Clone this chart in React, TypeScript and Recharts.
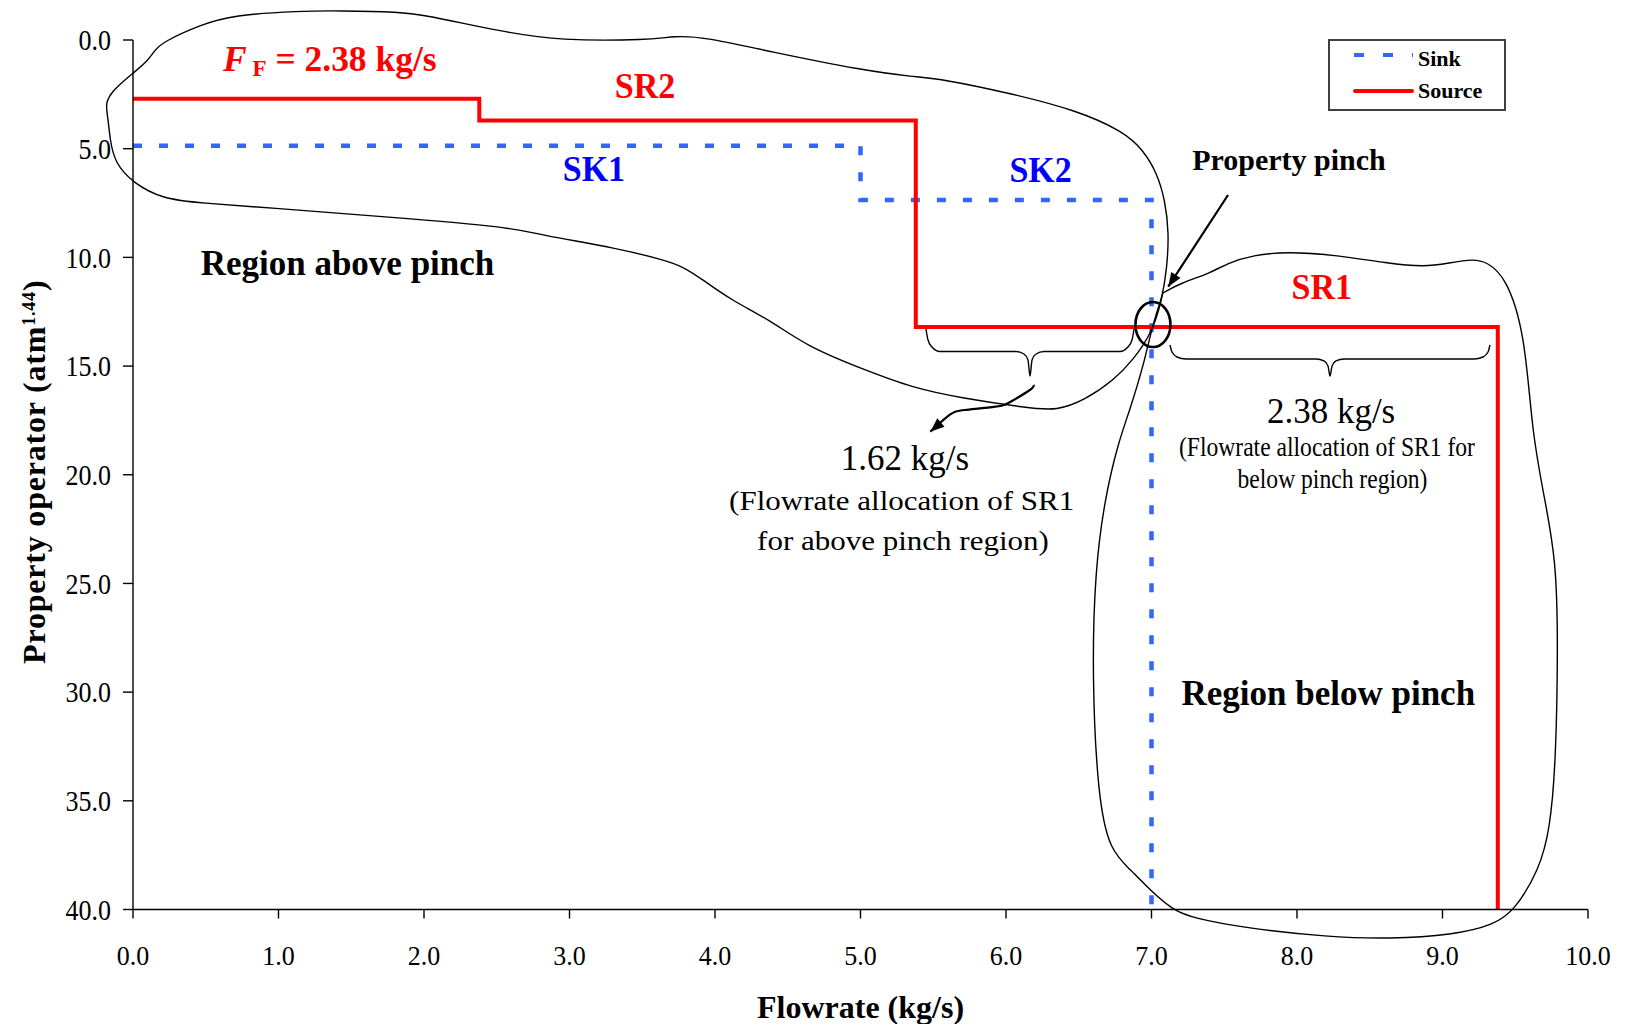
import React from 'react';
import { ComposedChart, Line, XAxis, YAxis, Legend, ReferenceDot } from 'recharts';

const FONT = '"Liberation Serif", "Times New Roman", Times, serif';

// ---------- axis ticks ----------
const flowTicks = [0, 1, 2, 3, 4, 5, 6, 7, 8, 9, 10];
const propertyTicks = [0, 5, 10, 15, 20, 25, 30, 35, 40];

// ---------- composite curves (flowrate kg/s, property operator) ----------
const sourceFlow = [0, 2.38, 2.38, 5.38, 5.38, 9.38, 9.38];
const sourceProperty = [2.7, 2.7, 3.7, 3.7, 13.2, 13.2, 40];

const sinkFlow = [0, 5.0, 5.0, 7.0, 7.0];
const sinkProperty = [4.87, 4.87, 7.36, 7.36, 40];

const seriesNames = ['Sink', 'Source'];

// ---------- hand-drawn annotations (flowrate, property) ----------
const regionAboveOutline: [number, number][] = [
  [0.206, 0.092], [0.46, -0.69], [0.687, -1.15], [1.148, -1.334], [1.416, -1.348], [1.835, -1.288],
  [2.007, -1.15], [2.536, -0.382], [2.928, 0.032], [3.553, 0.0], [3.718, -0.184], [3.918, -0.152],
  [4.378, 0.538], [5.031, 1.412], [5.361, 1.688], [5.56, 1.794], [6.021, 2.438], [6.481, 3.22],
  [6.811, 4.219], [6.942, 5.06], [7.038, 6.118], [7.093, 7.361], [7.12, 8.879], [7.107, 10.443],
  [7.072, 11.961], [7.003, 13.479], [6.873, 14.721], [6.742, 15.641], [6.543, 16.561], [6.351, 17.054],
  [6.151, 16.93], [5.691, 16.47], [5.361, 16.009], [5.031, 15.181], [4.639, 14.123], [4.378, 12.881],
  [4.11, 11.961], [3.918, 11.041], [3.787, 10.443], [3.649, 10.121], [3.326, 9.569], [2.797, 8.971],
  [2.598, 8.603], [1.746, 8.143], [0.955, 7.729], [0.46, 7.499], [0.206, 7.315], [0.0, 6.579],
  [-0.124, 5.658], [-0.158, 4.6], [-0.172, 3.542], [-0.192, 2.898], [-0.137, 2.3], [0.0, 1.518],
  [0.096, 1.012], [0.151, 0.46],
];

const regionBelowOutline: [number, number][] = [
  [7.079, 11.639], [7.079, 11.639], [7.079, 11.639], [7.196, 11.193], [7.402, 10.733], [7.519, 10.273],
  [7.698, 9.891], [7.931, 9.739], [8.275, 9.891], [8.619, 10.273], [8.88, 10.443], [9.045, 10.259],
  [9.21, 10.075], [9.306, 10.213], [9.436, 10.903], [9.567, 13.479], [9.615, 18.079], [9.704, 21.162],
  [9.78, 23.922], [9.794, 27.602], [9.78, 33.122], [9.739, 36.343], [9.663, 38.183], [9.498, 40.023],
  [9.354, 40.713], [9.072, 41.173], [8.639, 41.357], [8.213, 41.265], [7.643, 40.851], [7.285, 40.391],
  [7.148, 40.023], [7.003, 39.195], [6.859, 38.183], [6.715, 37.309], [6.632, 34.917], [6.591, 29.166],
  [6.612, 24.428], [6.677, 21.162], [6.77, 18.539], [6.852, 17.021], [6.955, 14.721], [7.003, 13.203],
];

const braceAbovePinch: [number, number][] = [
  [5.45, 13.295], [5.464, 13.801], [5.491, 14.123], [5.546, 14.33], [6.069, 14.33], [6.124, 14.445],
  [6.151, 14.721], [6.165, 15.457], [6.179, 14.721], [6.206, 14.445], [6.261, 14.33], [6.784, 14.33],
  [6.838, 14.123], [6.866, 13.801], [6.88, 13.295],
];

const braceBelowPinch: [number, number][] = [
  [7.127, 14.031], [7.141, 14.353], [7.175, 14.583], [7.237, 14.675], [8.131, 14.675], [8.186, 14.767],
  [8.213, 14.997], [8.227, 15.457], [8.241, 14.997], [8.268, 14.767], [8.323, 14.675], [9.216, 14.675],
  [9.278, 14.583], [9.313, 14.353], [9.326, 14.031],
];

// arrows: last point is the arrow tip
const pinchArrow: [number, number][] = [[7.526, 7.131], [7.115, 11.349]];
const allocationArrow: [number, number][] = [
  [6.19, 15.871], [6.164, 16.101], [6.032, 16.639], [5.927, 16.869], [5.717, 17.021], [5.612, 17.251], [5.48, 18.019],
];

const pinchPoint = { x: 7.01, y: 13.09 };

// ---------- text annotations ----------
type Note = { text: string; x: number; y: number; kind: string; anchor?: 'start' | 'middle' | 'end' };
const notes: Note[] = [
  { text: 'FF', x: 0.619, y: 1.426, kind: 'feed', anchor: 'start' },
  { text: 'SR2', x: 3.519, y: 2.668, kind: 'source' },
  { text: 'SK1', x: 3.168, y: 6.487, kind: 'sink' },
  { text: 'SK2', x: 6.238, y: 6.519, kind: 'sink' },
  { text: 'SR1', x: 8.17, y: 11.915, kind: 'source' },
  { text: 'Property pinch', x: 7.945, y: 5.981, kind: 'pinch' },
  { text: 'Region above pinch', x: 1.474, y: 10.811, kind: 'region' },
  { text: 'Region below pinch', x: 8.215, y: 30.592, kind: 'region' },
  { text: '1.62 kg/s', x: 5.306, y: 19.781, kind: 'flow' },
  { text: '(Flowrate allocation of SR1', x: 5.283, y: 21.622, kind: 'note' },
  { text: 'for above pinch region)', x: 5.292, y: 23.462, kind: 'note' },
  { text: '2.38 kg/s', x: 8.234, y: 17.633, kind: 'flow' },
  { text: '(Flowrate allocation of SR1 for', x: 8.206, y: 19.138, kind: 'noteSmall' },
  { text: 'below pinch region)', x: 8.244, y: 20.623, kind: 'noteSmall' },
];

// ---------- styles / layout ----------
const SOURCE_COLOR = '#FF0000';
const SINK_COLOR = '#3366FF';
const SINK_TEXT = '#0000FF';

const textStyles: Record<string, { size: number; weight: string; color: string; sy: number }> = {
  feed: { size: 35.5, weight: 'bold', color: SOURCE_COLOR, sy: 1.02 },
  source: { size: 34, weight: 'bold', color: SOURCE_COLOR, sy: 1.03 },
  sink: { size: 34, weight: 'bold', color: SINK_TEXT, sy: 1.03 },
  pinch: { size: 30, weight: 'bold', color: '#000', sy: 1 },
  region: { size: 35, weight: 'bold', color: '#000', sy: 1 },
  flow: { size: 35, weight: 'normal', color: '#000', sy: 1 },
  note: { size: 31, weight: 'normal', color: '#000', sy: 0.9 },
  noteSmall: { size: 23.6, weight: 'normal', color: '#000', sy: 1.2 },
};

const W = 1611;
const H = 1016;
const PLOT_L = 125;
const PLOT_T = 32;
const PLOT_W = 1455;
const PLOT_H = 869.5;
const PXX = PLOT_W / 10;
const PXY = PLOT_H / 40;

// overlay (for outlines that reach outside the axes)
const OX0 = -0.4;
const OY0 = -1.6;
const OY1 = 42;
const OFFSET_TOP = -40;
const ovLeft = PLOT_L + OX0 * PXX;
const ovRight = W - (PLOT_L + PLOT_W);
const ovH = H - OFFSET_TOP;
const ovTop = PLOT_T + OY0 * PXY - OFFSET_TOP;
const ovBottom = ovH - ovTop - (OY1 - OY0) * PXY;

const toPoints = (xs: number[], ys: number[]) => xs.map((x, i) => ({ x, y: ys[i] }));
const pairs = (p: [number, number][]) => p.map(([x, y]) => ({ x, y }));

const sourceData = toPoints(sourceFlow, sourceProperty);
const sinkData = toPoints(sinkFlow, sinkProperty);

const arrowAngle = (pts: [number, number][]) => {
  const [x1, y1] = pts[pts.length - 2];
  const [x2, y2] = pts[pts.length - 1];
  return (Math.atan2((y2 - y1) * PXY, (x2 - x1) * PXX) * 180) / Math.PI;
};

const NoteText = ({ cx, cy, note }: any) => {
  if (cx == null || cy == null) return null;
  const st = textStyles[note.kind];
  const anchor = note.anchor ?? 'middle';
  const content =
    note.text === 'FF' ? (
      <>
        <tspan fontStyle="italic">F</tspan>
        <tspan fontSize={23} dy={5}>{' F'}</tspan>
        <tspan dy={-5}>{' = 2.38 kg/s'}</tspan>
      </>
    ) : (
      note.text
    );
  return (
    <g transform={`translate(${cx},${cy}) scale(1,${st.sy})`}>
      <text
        x={0}
        y={0}
        textAnchor={anchor}
        fontFamily={FONT}
        fontSize={st.size}
        fontWeight={st.weight}
        fill={st.color}
        style={{ whiteSpace: 'pre' }}
      >
        {content}
      </text>
    </g>
  );
};

const XTick = (props: any) => {
  const { x, y, payload } = props;
  return (
    <text
      transform={`translate(${x},${y + 46.5}) scale(1,1.08)`}
      textAnchor="middle"
      fontFamily={FONT}
      fontSize={26}
      fill="#000"
    >
      {Number(payload.value).toFixed(1)}
    </text>
  );
};

const YTick = (props: any) => {
  const { x, y, payload } = props;
  return (
    <text
      transform={`translate(${x},${y}) scale(1,1.1)`}
      dy="0.36em"
      textAnchor="end"
      fontFamily={FONT}
      fontSize={26}
      fill="#000"
    >
      {Number(payload.value).toFixed(1)}
    </text>
  );
};

const renderYLabel = (props: any) => {
  const vb = props && props.viewBox && props.viewBox.height ? props.viewBox : { x: 0, y: PLOT_T, width: PLOT_L, height: PLOT_H };
  const cx = vb.x + 37;
  const cy = vb.y + vb.height / 2 - 3;
  return (
    <text
      transform={`translate(${cx},${cy}) rotate(-90)`}
      textAnchor="middle"
      fontFamily={FONT}
      fontSize={32}
      fontWeight="bold"
      fill="#000"
      letterSpacing={0.8}
      style={{ whiteSpace: 'pre' }}
    >
      Property operator (atm
      <tspan fontSize={18} dy={-10}>1.44</tspan>
      <tspan dy={10}>)</tspan>
    </text>
  );
};

const LegendBox = () => (
  <svg width={178} height={72} style={{ display: 'block', overflow: 'visible' }}>
    <rect x={1} y={1} width={176} height={70} fill="#fff" stroke="#404040" strokeWidth={2} />
    <line x1={26} x2={85} y1={16} y2={16} stroke={SINK_COLOR} strokeWidth={4} strokeDasharray="10 19" />
    <text x={90} y={27} fontFamily={FONT} fontSize={22} fontWeight="bold" fill="#000">
      {seriesNames[0]}
    </text>
    <line x1={27} x2={84} y1={52} y2={52} stroke={SOURCE_COLOR} strokeWidth={4} strokeLinecap="round" />
    <text x={90} y={59} fontFamily={FONT} fontSize={22} fontWeight="bold" fill="#000">
      {seriesNames[1]}
    </text>
  </svg>
);

const ArrowHead = ({ cx, cy, angle }: any) =>
  cx == null ? null : (
    <polygon points="0,0 -14,-5.5 -14,5.5" transform={`translate(${cx},${cy}) rotate(${angle})`} fill="#000" />
  );

const PinchEllipse = ({ cx, cy }: any) =>
  cx == null ? null : <ellipse cx={cx} cy={cy} rx={17.5} ry={22.5} fill="none" stroke="#000" strokeWidth={2.6} />;

export default function App() {
  return (
    <div style={{ position: 'relative', width: W, height: H }}>
      <ComposedChart width={W} height={H} margin={{ top: PLOT_T, right: W - PLOT_L - PLOT_W, bottom: 0, left: 0 }}>
        <XAxis
          type="number"
          dataKey="x"
          domain={[0, 10]}
          ticks={flowTicks}
          interval={0}
          height={H - PLOT_T - PLOT_H}
          tickSize={9}
          tickMargin={0}
          axisLine={{ stroke: '#000', strokeWidth: 1.6 }}
          tickLine={{ stroke: '#000', strokeWidth: 1.4 }}
          tick={<XTick />}
          label={{
            value: 'Flowrate (kg/s)',
            position: 'insideBottom',
            offset: 6,
            fill: '#000',
            fontSize: 32,
            fontWeight: 'bold',
            fontFamily: FONT,
          }}
        />
        <YAxis
          type="number"
          dataKey="y"
          domain={[0, 40]}
          reversed
          ticks={propertyTicks}
          interval={0}
          width={PLOT_L}
          tickSize={10}
          tickMargin={12}
          axisLine={{ stroke: '#000', strokeWidth: 1.4 }}
          tickLine={{ stroke: '#000', strokeWidth: 1.4 }}
          tick={<YTick />}
          label={renderYLabel}
        />
        <Line
          data={sinkData}
          dataKey="y"
          name={seriesNames[0]}
          type="linear"
          stroke={SINK_COLOR}
          strokeWidth={4.5}
          strokeDasharray="9 17"
          dot={false}
          activeDot={false}
          isAnimationActive={false}
        />
        <Line
          data={sourceData}
          dataKey="y"
          name={seriesNames[1]}
          type="linear"
          stroke={SOURCE_COLOR}
          strokeWidth={4}
          dot={false}
          activeDot={false}
          isAnimationActive={false}
        />
        <Legend
          layout="horizontal"
          verticalAlign="middle"
          align="center"
          width={178}
          height={72}
          wrapperStyle={{ left: 1320, top: 31, width: 178, height: 72 }}
          content={<LegendBox />}
        />
        {notes.map((n, i) => (
          <ReferenceDot
            key={`note-${i}`}
            x={n.x}
            y={n.y}
            r={0}
            ifOverflow="visible"
            shape={(p: any) => <NoteText cx={p.cx} cy={p.cy} note={n} />}
          />
        ))}
      </ComposedChart>

      <div style={{ position: 'absolute', left: 0, top: OFFSET_TOP, pointerEvents: 'none' }}>
        <ComposedChart width={W} height={ovH} margin={{ top: ovTop, right: ovRight, bottom: ovBottom, left: ovLeft }}>
          <XAxis type="number" dataKey="x" domain={[OX0, 10]} allowDataOverflow hide height={0} />
          <YAxis type="number" dataKey="y" domain={[OY0, OY1]} reversed allowDataOverflow hide width={0} />
          <Line data={pairs(regionAboveOutline)} dataKey="y" type="basisClosed" stroke="#000" strokeWidth={1.4}
            dot={false} activeDot={false} legendType="none" isAnimationActive={false} />
          <Line data={pairs(regionBelowOutline)} dataKey="y" type="basisClosed" stroke="#000" strokeWidth={1.4}
            dot={false} activeDot={false} legendType="none" isAnimationActive={false} />
          <Line data={pairs(braceAbovePinch)} dataKey="y" type="monotone" stroke="#000" strokeWidth={1.4}
            dot={false} activeDot={false} legendType="none" isAnimationActive={false} />
          <Line data={pairs(braceBelowPinch)} dataKey="y" type="monotone" stroke="#000" strokeWidth={1.4}
            dot={false} activeDot={false} legendType="none" isAnimationActive={false} />
          <Line data={pairs(pinchArrow)} dataKey="y" type="linear" stroke="#000" strokeWidth={2.2}
            dot={false} activeDot={false} legendType="none" isAnimationActive={false} />
          <Line data={pairs(allocationArrow)} dataKey="y" type="natural" stroke="#000" strokeWidth={2.2}
            dot={false} activeDot={false} legendType="none" isAnimationActive={false} />
          <ReferenceDot
            x={pinchArrow[1][0]}
            y={pinchArrow[1][1]}
            r={0}
            ifOverflow="visible"
            shape={(p: any) => <ArrowHead cx={p.cx} cy={p.cy} angle={arrowAngle(pinchArrow)} />}
          />
          <ReferenceDot
            x={allocationArrow[allocationArrow.length - 1][0]}
            y={allocationArrow[allocationArrow.length - 1][1]}
            r={0}
            ifOverflow="visible"
            shape={(p: any) => <ArrowHead cx={p.cx} cy={p.cy} angle={arrowAngle(allocationArrow)} />}
          />
          <ReferenceDot
            x={pinchPoint.x}
            y={pinchPoint.y}
            r={0}
            ifOverflow="visible"
            shape={(p: any) => <PinchEllipse cx={p.cx} cy={p.cy} />}
          />
        </ComposedChart>
      </div>
    </div>
  );
}
